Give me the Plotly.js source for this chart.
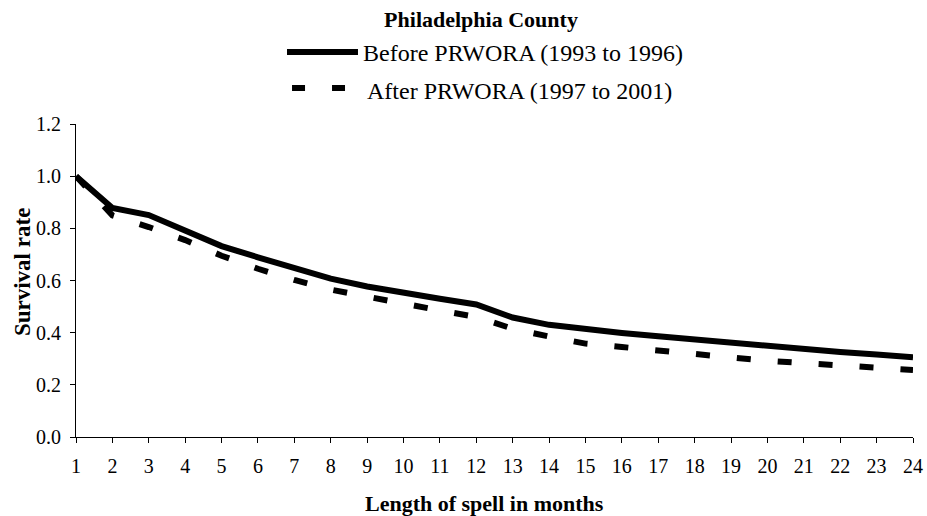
<!DOCTYPE html>
<html>
<head>
<meta charset="utf-8">
<script src="https://cdn.plot.ly/plotly-3.0.1.min.js"></script>
<style>html,body{margin:0;padding:0;background:#fff;}#chart{width:927px;height:516px;}</style>
</head>
<body>
<div id="chart"></div>
<script>
var months = [1,2,3,4,5,6,7,8,9,10,11,12,13,14,15,16,17,18,19,20,21,22,23,24];
var beforeRate = [1.0,0.878,0.851,0.794,0.732,0.689,0.646,0.607,0.577,0.552,0.530,0.508,0.458,0.430,0.413,0.399,0.386,0.373,0.360,0.348,0.336,0.326,0.316,0.306];
var afterRate = [1.0,0.850,0.805,0.755,0.695,0.645,0.602,0.565,0.538,0.510,0.485,0.460,0.415,0.385,0.358,0.345,0.330,0.317,0.305,0.292,0.282,0.273,0.265,0.257];
var seriesNames = ["Before PRWORA (1993 to 1996)", "After PRWORA (1997 to 2001)"];
var chartTitle = "Philadelphia County";
var xTitle = "Length of spell in months";
var yTitle = "Survival rate";

var serif = "Liberation Serif, Times New Roman, serif";

var traces = [
  {x: months, y: beforeRate, name: seriesNames[0], mode: "lines",
   line: {color: "#000", width: 6}},
  {x: months, y: afterRate, name: seriesNames[1], mode: "lines",
   line: {color: "#000", width: 6, dash: "14px,27px"}}
];

var layout = {
  width: 927, height: 516,
  margin: {l: 76, r: 14, t: 124, b: 79},
  paper_bgcolor: "#fff", plot_bgcolor: "#fff",
  font: {family: serif, size: 20, color: "#000"},
  title: {text: "<b>" + chartTitle + "</b>", font: {family: serif, size: 22, color: "#000"},
          xref: "container", x: 481 / 927, xanchor: "center", yref: "container", y: 1 - 19 / 516, yanchor: "middle"},
  showlegend: false,
  xaxis: {range: [1, 24], tickmode: "array", tickvals: months, ticktext: months.map(String),
          showgrid: false, zeroline: false, showline: true, linecolor: "#000", linewidth: 1,
          ticks: "outside", ticklen: 5, tickcolor: "#000", tickangle: 0, ticklabelstandoff: 6,
          tickfont: {family: serif, size: 20, color: "#000"}},
  yaxis: {range: [0, 1.2], dtick: 0.2, tick0: 0, tickformat: ".1f",
          showgrid: false, zeroline: false, showline: true, linecolor: "#000", linewidth: 1,
          ticks: "outside", ticklen: 5, tickcolor: "#000", ticklabelstandoff: 5,
          tickfont: {family: serif, size: 20, color: "#000"}},
  shapes: [
    {type: "line", xref: "paper", yref: "paper", x0: 0.2521, x1: 0.3369, y0: 1.2300, y1: 1.2300,
     line: {color: "#000", width: 6}},
    {type: "line", xref: "paper", yref: "paper", x0: 0.2581, x1: 0.3214, y0: 1.1150, y1: 1.1150,
     line: {color: "#000", width: 6, dash: "13px,27px"}}
  ],
  annotations: [
    {text: seriesNames[0], xref: "paper", yref: "paper", x: 0.3405, y: 1.2268,
     xanchor: "left", yanchor: "middle", showarrow: false,
     font: {family: serif, size: 24, color: "#000"}},
    {text: seriesNames[1], xref: "paper", yref: "paper", x: 0.3453, y: 1.1054,
     xanchor: "left", yanchor: "middle", showarrow: false,
     font: {family: serif, size: 24, color: "#000"}},
    {text: "<b>" + xTitle + "</b>", xref: "paper", yref: "paper", x: 0.4875, y: -0.211,
     xanchor: "center", yanchor: "middle", showarrow: false,
     font: {family: serif, size: 22, color: "#000"}},
    {text: "<b>" + yTitle + "</b>", xref: "paper", yref: "paper", x: -0.0645, y: 0.527,
     xanchor: "center", yanchor: "middle", textangle: -90, showarrow: false,
     font: {family: serif, size: 23, color: "#000"}}
  ]
};

Plotly.newPlot("chart", traces, layout, {displayModeBar: false, staticPlot: true});
</script>
</body>
</html>
